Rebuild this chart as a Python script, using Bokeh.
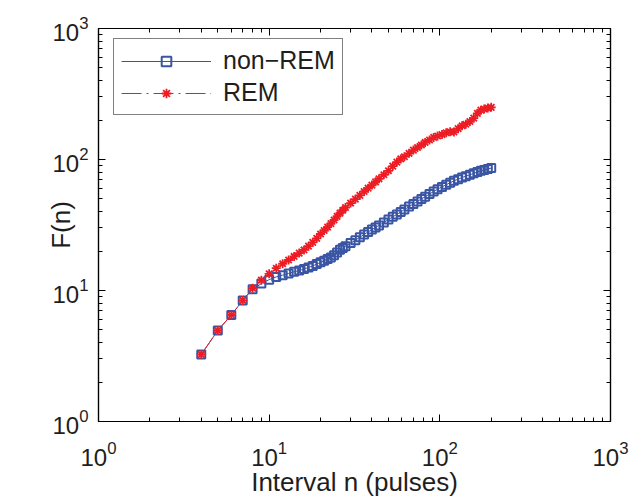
from bokeh.plotting import figure
from bokeh.models import (Legend, LegendItem, LogAxis, FixedTicker, Range1d,
                          CustomJSTickFormatter, LogTickFormatter)
from bokeh.embed import file_html
from bokeh.resources import INLINE

# ---------------- data ----------------
n_vals = [4, 5, 6, 7, 8, 9, 10, 11, 12, 13, 14, 15, 16, 17, 18, 19, 20,
          21, 22, 23, 24, 25, 26, 27, 28, 30, 32, 34, 36, 38, 40, 42, 44,
          47, 50, 53, 56, 59, 62, 66, 70, 74, 78, 82, 87, 92, 97, 103, 109,
          115, 121, 128, 135, 142, 150, 158, 166, 174, 182, 191, 200]

nonrem_F = [3.25, 4.95, 6.5, 8.4, 10.2, 11.3, 12.1, 12.7, 13.1, 13.5, 13.9, 14.2,
            14.6, 15.0, 15.4, 15.9, 16.4,
            16.9, 17.4, 17.9, 18.6, 19.5, 20.5, 21.1, 21.8, 23.0, 24.2, 25.5, 26.8,
            28.0, 29.2, 30.3, 31.4, 33.1, 34.8, 36.5, 38.1, 39.8, 41.5, 43.7, 45.8,
            47.9, 50.0, 52.0, 54.5, 57.0, 59.3, 61.8, 64.2, 66.5, 68.7, 70.8, 72.8,
            74.6, 76.5, 78.4, 80.4, 81.9, 83.2, 84.6, 86.0]

rem_F = [3.25, 4.95, 6.5, 8.4, 10.4, 12.0, 13.4, 14.8, 16.0, 17.1, 18.2, 19.3,
         20.4, 21.8, 23.3, 25.0, 27.0,
         28.7, 30.5, 32.4, 34.5, 36.8, 39.0, 41.0, 43.0, 46.5, 49.8, 53.2, 57.0,
         60.4, 63.8, 67.5, 71.2, 76.5, 82.0, 89.0, 95.5, 101.0, 105.0, 111.5, 118.0,
         123.5, 129.0, 135.0, 141.0, 147.5, 151.0, 155.0, 160.0, 163.0, 162.0, 172.0,
         181.0, 186.0, 195.0, 207.0, 225.0, 238.0, 243.0, 247.0, 250.0]

series_labels = ["non\u2212REM", "REM"]
major_ticks = [1, 10, 100, 1000]
minor_ticks = [m * 10 ** k for k in range(3) for m in range(2, 10)]

x_title = "Interval n (pulses)"
y_title = "F(n)"

BLUE = "#3a55a4"
RED = "#ed1c24"
TXT = "#1e1e1e"
FONT = "Liberation Sans"

# ---------------- figure ----------------
p = figure(width=630, height=500, x_axis_type="log", y_axis_type="log",
           x_range=Range1d(1, 1000), y_range=Range1d(1, 1000),
           output_backend="svg", toolbar_location=None,
           min_border_left=98, min_border_right=20,
           min_border_top=28, min_border_bottom=79)
p.xgrid.visible = False
p.ygrid.visible = False
p.outline_line_color = "black"
p.outline_line_width = 1.2
p.background_fill_color = "white"
p.border_fill_color = "white"

bottom_ax = p.below[0]
left_ax = p.left[0]


def style_axis(ax, labelled):
    ax.ticker = FixedTicker(ticks=major_ticks, minor_ticks=minor_ticks)
    if labelled:
        ax.formatter = LogTickFormatter()
    else:
        ax.formatter = CustomJSTickFormatter(code="return ''")
    ax.major_tick_in = 7
    ax.major_tick_out = 0
    ax.minor_tick_in = 4
    ax.minor_tick_out = 0
    ax.axis_line_color = "black"
    ax.axis_line_width = 1.2
    ax.major_tick_line_color = "black"
    ax.minor_tick_line_color = "black"
    ax.major_label_text_font = FONT
    ax.major_label_text_font_size = "24px"
    ax.major_label_text_color = TXT
    ax.axis_label_text_font = FONT
    ax.axis_label_text_font_size = "26px"
    ax.axis_label_text_font_style = "normal"
    ax.axis_label_text_color = TXT


style_axis(bottom_ax, True)
style_axis(left_ax, True)
top_ax = LogAxis()
right_ax = LogAxis()
style_axis(top_ax, False)
style_axis(right_ax, False)
p.add_layout(top_ax, "above")
p.add_layout(right_ax, "right")

bottom_ax.axis_label = x_title
left_ax.axis_label = y_title
bottom_ax.major_label_standoff = 19
bottom_ax.axis_label_standoff = -2
left_ax.major_label_standoff = 10
left_ax.axis_label_standoff = -27

# ---------------- series ----------------
bl = p.line(n_vals, nonrem_F, line_color=BLUE, line_width=1)
bs = p.scatter(n_vals, nonrem_F, marker="square", size=8, line_color=BLUE,
               line_width=2, fill_color=None)
rl = p.line(n_vals, rem_F, line_color=RED, line_width=1, line_dash="20 5 2 5")
rs = p.scatter(n_vals, rem_F, marker="asterisk", size=9, line_color=RED,
               line_width=1.8)

legend = Legend(items=[LegendItem(label=series_labels[0], renderers=[bl, bs]),
                       LegendItem(label=series_labels[1], renderers=[rl, rs])],
                location=(15, 306))
legend.label_text_font = FONT
legend.label_text_font_size = "25px"
legend.label_text_color = TXT
legend.border_line_color = "black"
legend.border_line_width = 1.5
legend.background_fill_color = "white"
legend.background_fill_alpha = 1
legend.padding = 7
legend.spacing = 3
legend.margin = 0
legend.glyph_width = 90
legend.glyph_height = 24
legend.label_height = 24
legend.label_standoff = 12
p.add_layout(legend)

open("out.html", "w").write(file_html(p, INLINE))
